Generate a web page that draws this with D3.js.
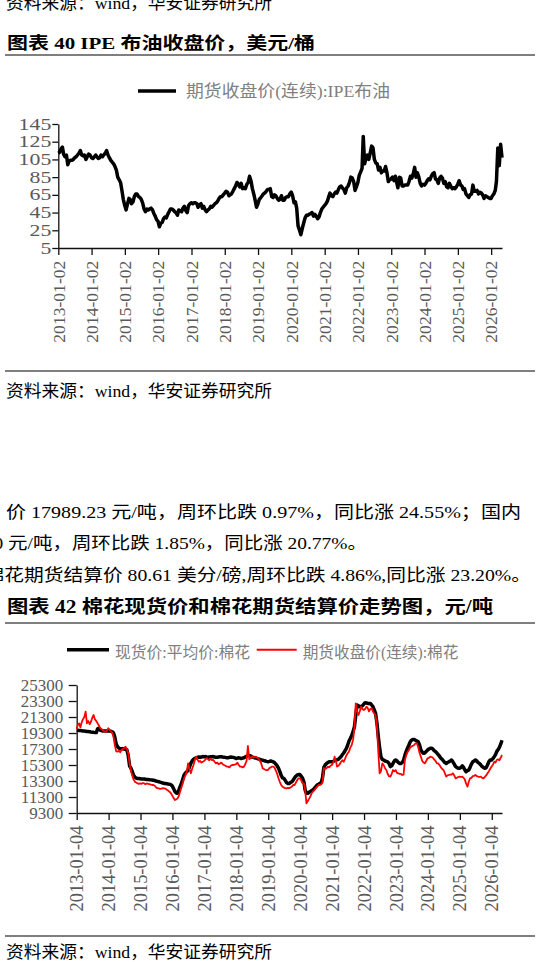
<!DOCTYPE html>
<html><head><meta charset="utf-8">
<script src="https://cdn.jsdelivr.net/npm/d3@7"></script>
<style>html,body{margin:0;padding:0;background:#fff;overflow:hidden}</style>
</head><body>
<svg id="c" width="541" height="962"></svg>
<script>
// ---------------- DATA ----------------
const brentYTicks = [5, 25, 45, 65, 85, 105, 125, 145];
const cottonYTicks = [9300, 11300, 13300, 15300, 17300, 19300, 21300, 23300, 25300];
const tickYears = [2013,2014,2015,2016,2017,2018,2019,2020,2021,2022,2023,2024,2025,2026];

// semi-monthly (1st & 16th), 2013-01 .. 2026-05-01
const brentValues = [
112,113,117,119,111,108,110,99,103,104,104,105,107,108,110,112,115,110,109,110,105,108,111,110,
107,106,108,110,108,106,107,110,108,110,112,115,110,107,104,102,100,97,93,85,82,79,70,60,
53,48,55,61,60,55,57,63,66,66,63,62,60,56,49,46,49,48,49,50,48,44,41,37,
35,29,33,34,38,40,39,43,46,49,49,48,46,45,42,48,47,46,50,52,47,45,53,55,
56,55,56,56,55,51,54,55,50,52,48,46,48,49,52,51,53,55,56,58,61,63,63,65,
67,69,68,64,65,66,69,72,75,79,77,74,78,72,73,72,77,79,86,81,72,66,59,51,
55,60,62,64,66,67,69,71,71,72,63,62,65,64,61,59,60,64,59,59,62,63,63,66,
68,64,56,57,50,30,25,20,27,33,39,42,42,43,44,45,41,43,41,38,40,45,49,51,
53,55,58,63,67,64,63,66,68,67,71,74,75,73,71,67,73,75,79,85,84,80,70,74,
79,87,91,95,131,100,107,110,105,112,120,118,105,101,100,93,96,90,92,92,97,90,80,82,
83,85,81,86,80,73,85,84,75,75,76,76,76,80,86,84,89,96,85,90,85,78,75,77,
76,78,81,83,82,86,89,90,83,82,78,84,86,84,78,80,74,73,78,75,72,73,72,74,
77,81,76,75,71,72,66,64,62,65,66,76,69,69,70,66,68,67,65,61,64,63,62,61,
61,64,66,70,80,118,98,122,107
];

const cottonSpot = [
19650,19640,19620,19600,19580,19560,19540,19520,19500,19480,19450,19420,19400,19380,19350,19350,19850,19900,19650,19600,19550,19550,19550,19560,
19560,19550,19500,19450,19300,18800,17900,17600,17400,17350,17300,17350,17300,17250,17200,16500,15200,14900,14500,14000,13800,13650,13600,13600,
13580,13560,13550,13540,13520,13500,13480,13460,13440,13420,13400,13360,13300,13250,13200,13150,13100,13050,13000,12980,12950,12920,12900,12850,
12700,12380,12000,11800,11760,12100,12600,13000,13500,14050,14300,14460,14700,15000,15500,15800,16000,16140,16200,16250,16300,16250,16300,16350,
16340,16350,16300,16280,16300,16320,16340,16350,16300,16250,16280,16300,16320,16340,16300,16280,16250,16200,16200,16250,16300,16280,16250,16200,
16100,16150,16200,16150,16100,16150,16200,16300,16400,16500,16500,16450,16300,16250,16200,16150,16100,16050,16000,15950,15900,15850,15800,15750,
15710,15750,15800,15750,15700,15600,15400,15200,14900,14500,14000,13700,13640,13400,13100,13000,13000,13100,13200,13400,13700,13900,14050,14100,
14100,13900,13640,13200,12175,11760,11760,11900,12000,12100,12200,12400,12600,12800,12900,13000,13100,13700,15000,15300,15500,15600,15700,15700,
15700,15750,15850,15900,15950,16000,16200,16340,16600,16800,17100,17385,17800,18300,18640,19000,19500,20090,21500,22800,22700,22590,22600,22700,
22900,23090,23050,23000,23000,23000,22800,22600,22200,21750,20500,18850,17500,16340,16000,15925,15800,15750,15700,15500,15100,15200,15500,15800,
15925,15800,15600,15500,15500,15600,15900,16500,17000,17400,17800,18200,18400,18500,18500,18400,18300,18200,17800,17175,16900,16760,16800,17000,
17175,17300,17400,17400,17300,17100,16970,16800,16600,16400,16140,16000,15800,15600,15500,15600,15700,15800,15925,15700,15400,15100,15000,14900,
14900,15000,15200,15000,14700,14460,14600,14670,15000,15400,15700,15800,15925,15800,15600,15500,15300,15100,15000,14900,14950,15300,15700,15925,
15925,16100,16340,16600,16970,17200,17500,17900,18400
];

const cottonFutures = [
19800,20300,20500,20000,20600,21000,21300,21960,20500,20800,20400,20700,21200,21550,21000,20800,20500,20200,19900,19800,19600,19500,19450,19600,
19900,19700,19450,19300,18800,17800,17000,16960,17100,16900,17170,17300,17400,17600,17300,16800,15500,14600,14000,13500,13210,13100,13000,12950,
13000,12950,13050,13000,12900,13000,12950,12900,12850,12800,12800,12700,12500,12400,12380,12300,12350,12400,12380,12350,12200,12100,11960,11800,
11500,11200,10925,11000,11100,11400,11960,12500,13000,13640,14000,14500,15500,14800,14260,14800,15300,15900,16340,16000,15700,15800,15600,15700,
15800,16000,16140,16000,15900,16100,15900,15925,15700,15500,15600,15400,15500,15600,15400,15300,15200,15100,15100,15000,15200,15300,15300,15350,
15400,15600,15300,15100,15100,15000,15100,15400,15800,17680,16000,16200,16340,16200,16300,16340,16200,16100,15800,15500,14900,14800,14700,14670,
14670,14900,15000,15100,15100,15000,14600,14200,13640,13200,12800,12590,12500,12400,12380,12450,12400,12500,12600,12800,12800,13100,13400,13640,
13640,13400,13000,13000,12200,10510,10800,11100,11400,11800,12000,12175,12400,12600,12800,12800,12900,13100,14900,14800,14900,15100,15000,15200,
15300,15600,16340,15800,15100,15200,15400,15700,15900,15700,16100,16500,16760,17000,17500,17800,18500,20000,23010,22000,21550,22000,22590,22300,
22180,22300,22590,22400,22000,22300,22380,22000,21750,21500,20000,17000,14260,14500,15500,15300,14900,14670,14200,13900,13850,14200,14670,14500,
14670,14300,14260,14200,14200,14050,14100,15925,16500,16900,17170,17500,17600,17700,17800,18010,18010,17500,16800,16340,15800,15600,15500,15800,
16140,16200,16340,16300,16200,16000,15800,15500,15500,15300,15000,14800,14670,14300,13850,14000,14050,14100,14100,14260,14000,13640,13700,13800,
13850,13800,13850,13700,13500,13000,12590,13200,13640,13700,13900,13950,14050,13900,13850,13800,13850,13700,13640,13800,14000,14260,14500,14800,
15100,15300,15700,15600,15925,16000,15900,16200,16550
];

// ---------------- HELPERS ----------------
const FONT = "'Liberation Serif','Times New Roman','Noto Sans CJK SC',serif";
const svg = d3.select("#c");
svg.append("rect").attr("width", 541).attr("height", 962).attr("fill", "#fff");

function txt(x, y, s, size, len, opts = {}) {
  const t = svg.append("text").attr("x", x).attr("y", y).text(s)
    .style("font-family", FONT).style("font-size", size + "px")
    .attr("fill", opts.fill || "#000");
  if (opts.bold) t.style("font-weight", "bold");
  if (len) t.attr("textLength", len).attr("lengthAdjust", "spacingAndGlyphs");
  return t;
}
function rule(y) {
  svg.append("line").attr("x1", 5).attr("x2", 535).attr("y1", y).attr("y2", y)
    .attr("stroke", "#7f7f7f").attr("stroke-width", 2);
}
function semiMonthDates(start) {
  const out = [];
  for (let i = 0; i < brentValues.length; i++) {
    const yy = 2013 + Math.floor(i / 24), m = Math.floor((i % 24) / 2), d = i % 2 ? 16 : 1;
    out.push(new Date(yy, m, d));
  }
  out[0] = start;
  return out;
}

// ---------------- TEXT BLOCKS ----------------
txt(6, 9, "资料来源：wind，华安证券研究所", 17.5, 266);
txt(7, 48.5, "图表 40 IPE 布油收盘价，美元/桶", 17.5, 308, {bold: true});
rule(55);

// legend 1
svg.append("line").attr("x1", 138).attr("x2", 176).attr("y1", 91).attr("y2", 91)
  .attr("stroke", "#000").attr("stroke-width", 3.5);
txt(186, 97, "期货收盘价(连续):IPE布油", 16.5, 204, {fill: "#808080"});

// ---------------- CHART 1 ----------------
const start1 = new Date(2013, 0, 2), end1 = new Date(2026, 4, 1);
const x1 = d3.scaleTime().domain([start1, end1]).range([58.3, 502]);
const y1 = d3.scaleLinear().domain([5, 145]).range([248, 124]);
const dates1 = semiMonthDates(start1);
const brent = brentValues.map((v, i) => ({d: dates1[i], v}));

const gy1 = svg.append("g").attr("transform", "translate(58.3,0)")
  .call(d3.axisLeft(y1).tickValues(brentYTicks).tickFormat(d3.format("d"))
    .tickSize(6).tickSizeOuter(0).tickPadding(1));
gy1.selectAll("text").style("font-family", FONT).style("font-size", "16px").attr("fill", "#595959")
  .attr("textLength", d => String(d).length * 10.9).attr("lengthAdjust", "spacingAndGlyphs");

const gx1 = svg.append("g").attr("transform", "translate(0,248)")
  .call(d3.axisBottom(x1).tickValues(tickYears.map(y => new Date(y, 0, 2)))
    .tickFormat(d3.timeFormat("%Y-%m-%d")).tickSize(7).tickSizeOuter(0));
gx1.selectAll("text").style("font-family", FONT).style("font-size", "17.6px").attr("fill", "#595959")
  .attr("transform", "rotate(-90)").attr("x", -12.7).attr("y", 0).attr("dy", "0.33em")
  .style("text-anchor", "end").attr("textLength", 82).attr("lengthAdjust", "spacingAndGlyphs");
[gy1, gx1].forEach(g => { g.selectAll("path,line").attr("stroke", "#111").attr("stroke-width", 1.3); });

svg.append("path").datum(brent)
  .attr("d", d3.line().x(d => x1(d.d)).y(d => y1(d.v)))
  .attr("fill", "none").attr("stroke", "#000").attr("stroke-width", 3.5)
  .attr("stroke-linejoin", "round");

rule(371);
txt(6, 397, "资料来源：wind，华安证券研究所", 17.5, 266);

// ---------------- PARAGRAPH ----------------
txt(6, 518, "价 17989.23 元/吨，周环比跌 0.97%，同比涨 24.55%；国内", 17.5, 515);
txt(-6.5, 549, "0 元/吨，周环比跌 1.85%，同比涨 20.77%。", 17.5, 373.5);
txt(-15.5, 581, "棉花期货结算价 80.61 美分/磅,周环比跌 4.86%,同比涨 23.20%。", 17.5, 546.5);
txt(7, 613, "图表 42 棉花现货价和棉花期货结算价走势图，元/吨", 18, 486, {bold: true});
rule(623);

// legend 2
svg.append("line").attr("x1", 67).attr("x2", 109).attr("y1", 649.7).attr("y2", 649.7)
  .attr("stroke", "#000").attr("stroke-width", 3.5);
txt(115, 657.5, "现货价:平均价:棉花", 16, 135, {fill: "#808080"});
svg.append("line").attr("x1", 256.7).attr("x2", 296.7).attr("y1", 649.7).attr("y2", 649.7)
  .attr("stroke", "#ff0000").attr("stroke-width", 2);
txt(302.7, 657.5, "期货收盘价(连续):棉花", 16, 155.6, {fill: "#808080"});

// ---------------- CHART 2 ----------------
const start2 = new Date(2013, 0, 4), end2 = new Date(2026, 4, 1);
const x2 = d3.scaleTime().domain([start2, end2]).range([76.7, 502]);
const y2 = d3.scaleLinear().domain([9300, 25300]).range([813, 685]);
const dates2 = semiMonthDates(start2);
const spot = cottonSpot.map((v, i) => ({d: dates2[i], v}));
const fut = cottonFutures.map((v, i) => ({d: dates2[i], v}));

const gy2 = svg.append("g").attr("transform", "translate(76.7,0)")
  .call(d3.axisLeft(y2).tickValues(cottonYTicks).tickFormat(d3.format("d"))
    .tickSize(8).tickSizeOuter(0).tickPadding(5.5));
gy2.selectAll("text").style("font-family", FONT).style("font-size", "16.5px").attr("fill", "#595959")
  .attr("textLength", d => String(d).length * 8.5).attr("lengthAdjust", "spacingAndGlyphs");

const gx2 = svg.append("g").attr("transform", "translate(0,813)")
  .call(d3.axisBottom(x2).tickValues(tickYears.map(y => new Date(y, 0, 4)))
    .tickFormat(d3.timeFormat("%Y-%m-%d")).tickSize(7).tickSizeOuter(0));
gx2.selectAll("text").style("font-family", FONT).style("font-size", "18.4px").attr("fill", "#595959")
  .attr("transform", "rotate(-90)").attr("x", -12.5).attr("y", 0).attr("dy", "0.33em")
  .style("text-anchor", "end").attr("textLength", 86).attr("lengthAdjust", "spacingAndGlyphs");
[gy2, gx2].forEach(g => { g.selectAll("path,line").attr("stroke", "#111").attr("stroke-width", 1.3); });

const line2 = d3.line().x(d => x2(d.d)).y(d => y2(d.v));
svg.append("path").datum(spot).attr("d", line2)
  .attr("fill", "none").attr("stroke", "#000").attr("stroke-width", 3.5).attr("stroke-linejoin", "round");
svg.append("path").datum(fut).attr("d", line2)
  .attr("fill", "none").attr("stroke", "#ff0000").attr("stroke-width", 1.8).attr("stroke-linejoin", "round");

rule(936);
txt(6, 958, "资料来源：wind，华安证券研究所", 17.5, 266);
</script>
</body></html>
